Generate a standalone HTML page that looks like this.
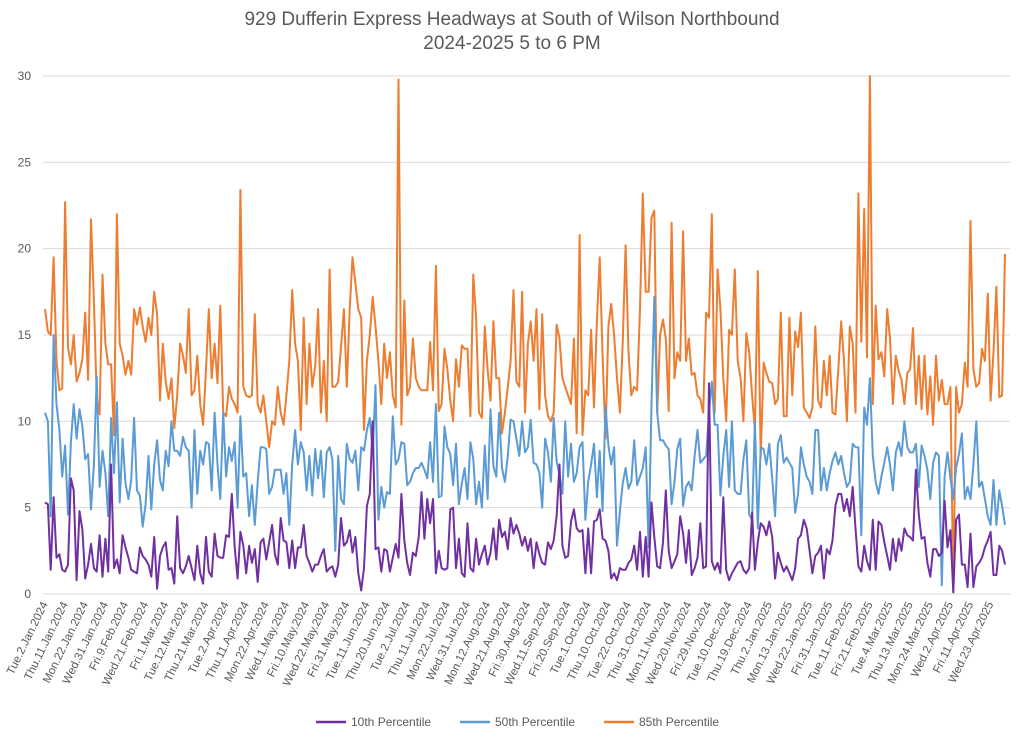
<!DOCTYPE html>
<html><head><meta charset="utf-8"><style>
body{margin:0;background:#fff;}
svg{display:block;font-family:"Liberation Sans",sans-serif;}
</style></head><body>
<svg id="chart" width="1024" height="740">
<text x="512" y="25" text-anchor="middle" font-size="19" fill="#595959">929 Dufferin Express Headways at South of Wilson Northbound</text>
<text x="512" y="49" text-anchor="middle" font-size="19" fill="#595959">2024-2025 5 to 6 PM</text>
<g id="grid"></g><g id="xlabels"></g><g id="lines"></g>
<g>
<g><line x1="316" y1="722" x2="346" y2="722" stroke="#7030A0" stroke-width="2.5"/><text x="351" y="726" font-size="12" fill="#595959">10th Percentile</text></g>
<g><line x1="460" y1="722" x2="490" y2="722" stroke="#5B9BD5" stroke-width="2.5"/><text x="495" y="726" font-size="12" fill="#595959">50th Percentile</text></g>
<g><line x1="604" y1="722" x2="634" y2="722" stroke="#ED7D31" stroke-width="2.5"/><text x="639" y="726" font-size="12" fill="#595959">85th Percentile</text></g>
</g>
</svg>
<script>
const yTicks=[0,5,10,15,20,25,30];
const tickLabels=["Tue.2.Jan.2024","Thu.11.Jan.2024","Mon.22.Jan.2024","Wed.31.Jan.2024","Fri.9.Feb.2024","Wed.21.Feb.2024","Fri.1.Mar.2024","Tue.12.Mar.2024","Thu.21.Mar.2024","Tue.2.Apr.2024","Thu.11.Apr.2024","Mon.22.Apr.2024","Wed.1.May.2024","Fri.10.May.2024","Wed.22.May.2024","Fri.31.May.2024","Tue.11.Jun.2024","Thu.20.Jun.2024","Tue.2.Jul.2024","Thu.11.Jul.2024","Mon.22.Jul.2024","Wed.31.Jul.2024","Mon.12.Aug.2024","Wed.21.Aug.2024","Fri.30.Aug.2024","Wed.11.Sep.2024","Fri.20.Sep.2024","Tue.1.Oct.2024","Thu.10.Oct.2024","Tue.22.Oct.2024","Thu.31.Oct.2024","Mon.11.Nov.2024","Wed.20.Nov.2024","Fri.29.Nov.2024","Tue.10.Dec.2024","Thu.19.Dec.2024","Thu.2.Jan.2025","Mon.13.Jan.2025","Wed.22.Jan.2025","Fri.31.Jan.2025","Tue.11.Feb.2025","Fri.21.Feb.2025","Tue.4.Mar.2025","Thu.13.Mar.2025","Mon.24.Mar.2025","Wed.2.Apr.2025","Fri.11.Apr.2025","Wed.23.Apr.2025"];
const p85=[16.5,15.2,15,19.5,13.5,11.8,11.9,22.7,14.3,13.3,15,12.3,12.8,13.6,16.3,12.4,21.7,17,11.4,10.4,18.5,14.5,13.3,13.3,9.2,22,14.5,13.8,12.7,13.5,12.7,16.5,15.6,16.6,15.5,14.6,16,15,17.5,16.2,11.2,14.5,12.3,11.3,12.5,9.6,11.5,14.5,13.8,12.8,16.5,
11.5,11.8,13.8,11,9.8,13,16.5,12.5,14.5,12.2,16.7,10.5,10.3,12,11.3,11,10.5,23.4,12,11.5,11.4,11.5,16.2,11,10.5,11.5,10,8.5,10,9.8,12,10.5,9.8,11.5,13.5,17.6,14.5,13.5,9.5,16,11,14.5,12,13.2,16.5,10.5,13.5,10,18.8,12,12,12.3,14.3,16.5,12,16.5,19.5,
18,16.5,16,9.5,13.5,15,17.2,15.5,13.5,11,14.5,12.5,14,11.5,10.8,29.8,9.8,17,11.5,12,14.8,12.5,12,11.8,11.8,11.8,14.6,11.8,19,10.6,11,14.2,13,11.2,10,13.6,12,14.4,14.2,14.2,10.3,18.5,16,10.5,10.2,15.5,13,11.2,15.8,12.5,12.5,9.3,10.5,12,13.5,17.6,12.3,
12,17.5,10.5,14.5,15.8,13.5,16.5,10.7,16.2,11.5,10.3,10,10.5,15.6,14.8,12.5,12,11.5,11,14.8,9.3,20.8,9.2,11.8,11.5,15.3,10.8,15.8,19.5,13.8,9,15.5,16.8,15,12.5,10.5,14.5,20.2,14,11.5,12,11.8,16.5,23.2,17.5,17.5,21.8,22.2,10.5,15,15.9,14.8,10.6,21.5,12.5,14,13.5,
21,13.5,14.8,12.7,12.8,11.5,11.3,10.5,16.3,16,22,10.5,18.8,16.5,12.5,10,15.3,15,18.8,13.5,12.5,10,15.1,14,11.5,9.5,18.7,7.9,13.4,12.8,12.3,12.2,11,11.3,16.3,10.3,10.3,16,11.5,15.2,14.3,16.3,10.8,10.5,10.2,10.8,15.5,11.2,10.8,13.5,11.5,13.8,10.5,10.4,13,15.8,13.5,
10,15.5,14.5,10.5,23.2,14.6,22.3,13.7,30,11,16.7,13.6,14,12.6,16.5,14.8,11,13.8,12.9,12.4,11,12.8,13,15.4,11,13.8,10.7,13.8,10.4,12.6,9.8,13.8,11.2,12.4,11,11,12,0.1,12,10.5,11,13.4,12,21.6,13,12,12.2,14.2,13.5,17.4,11.2,14,17.8,11.4,11.5,19.7];
const p50=[10.5,10,4.5,15,11,9.5,6.8,8.6,4.6,8.8,11,9,10.7,9.7,7.8,8.1,4.9,7.5,12.6,6.2,8.3,7,4.5,10.2,7,11.1,5.3,9,6.4,5.5,6.6,10.2,6,5.7,3.9,5.2,8,4.9,7.5,8.9,6.6,6,8.3,7.4,10,8.3,8.3,8,9.1,8.5,8.3,
5,9.5,5.8,8.3,7.5,8.8,8.7,6,10.5,7.5,5.5,10.5,6.8,8.5,7.7,8.8,5,10.3,6.8,7,4.5,6.3,4,6.5,8.5,8.5,8.4,5.8,6.2,7.2,7.2,7.2,5.8,7,4,7.5,9.5,7.5,8.8,8.2,6,8,5.7,8.4,6.7,8.3,5.6,8.2,8.5,7.8,2.5,8,5.5,5.2,8.7,7.8,7.6,
8.3,6,8.5,8.3,9.5,10.2,8.2,12.1,4.3,6.2,5,5.9,5.8,10.3,7.5,7.8,8.8,8.7,6.3,6.5,7,7.3,7.3,7.6,7.2,6.7,8.8,6.5,11,5.6,5.7,9.7,8.5,8.1,6.3,8.7,5.2,6.4,7.3,5.5,8.8,7.8,5.2,6.5,5,8.6,5.5,10.7,7.4,6.8,10.5,7.3,6.5,8,10.1,10,9,
8,10,8.2,8.5,10.1,7.6,7.5,7,5,9,8.2,6.5,10.2,7.7,6.9,5.8,10,6.8,8.7,6.5,7,8.5,8.8,4.3,6.5,7.5,8.7,5.6,8.3,4.8,10.9,8.6,7.5,8.5,2.8,4.8,6.4,7.3,6.1,6.5,8.9,6.3,6.8,7.3,8.5,2.7,11,17.2,10.5,8.9,8.9,8.6,8.4,5.2,6.5,8.4,9,
5.1,6.2,6.5,6,8,9.5,7.6,7.8,8,10.5,12.3,9.8,9.8,5.7,8,9.5,6.2,10,6,5.8,5.8,7.8,8.9,4.6,4.3,10,3.8,8.5,8.4,7.5,8.7,6.7,4.5,8.7,9.2,7.6,7.9,7.6,7.3,4.7,5.8,8.5,7.5,6.8,6.5,5.8,9.5,9.5,6,7.3,6,7,7.7,8.2,7.5,8,7,
6.2,6.5,8.7,8.5,8.5,3.4,10.8,9.8,12.5,8,6.5,5.8,6.8,7.6,8.5,7.5,6,8.2,8.8,8,10,8.5,8.2,8.2,8.7,6.2,8.6,8,7.2,5.5,7.6,8.2,8,0.5,6.8,8.2,6.7,5.5,7.3,8.1,9.3,5.5,6.2,5.5,7.5,10,6.2,6.5,5.5,4.5,4,6.6,4,6,5.1,4];
const p10=[5.3,5.2,1.4,5.6,2.1,2.3,1.4,1.3,1.7,6.7,6,0.8,4.8,3.7,0.9,1.7,2.9,1.5,1.3,3.4,1,3.2,1.3,7.5,1.5,2,1.2,3.4,2.7,2.1,1.4,1.3,1.2,2.7,2.2,2,1.7,1,3.3,0.3,2.2,2.7,3,1.4,1.5,0.6,4.5,1.5,1.2,1.6,2.2,
1.5,0.8,2.8,1.2,0.6,3.3,1.3,1,3.5,2.2,2.1,2.1,3.4,3.3,5.8,2.7,0.9,3.6,2.8,1.2,2.8,1.8,2.6,0.7,3,3.2,2,3,4,2.3,1.7,4.4,3.1,3,1.5,3.1,1.5,2.7,2.7,4,2.2,1.8,1.3,1.7,1.7,2.2,2.6,1.3,1.5,1.6,1,1.7,4.4,2.8,3,3.7,2.4,
3.3,1.2,0.2,1.5,5.1,5.8,10,2.6,2.7,1.3,2.6,2.5,1.3,2.1,2.9,2.1,5.8,3.1,1.8,1.1,2.4,2.2,3.3,5.9,3.2,5.5,4.1,5.5,1.2,2.5,1.5,1.4,1.5,4.9,5,1.5,3.2,1.2,1,4.1,1.5,1.3,3.2,1.7,2.3,2.8,1.7,2.4,3.8,2,4.3,3.3,3.6,2.6,4.4,3.5,4,
3.5,2.8,3.3,2.5,3.2,1.5,3,2.3,1.8,1.7,3,2.6,3.1,4.5,7.5,2.8,2.1,2.2,4.2,4.9,3.8,3.6,3.7,1.2,3.8,1.2,4.2,4.3,4.9,3.2,3.1,2.5,0.9,1.2,0.8,1.5,1.4,1.4,1.8,2,2.8,1.4,3.6,1,3.3,1,5.3,3.3,1.6,1.5,3,6,2.5,1.5,1.9,2.3,4.5,
3.5,1.8,3.7,1.1,1.5,2.1,4.1,1.5,1.6,12.2,1.9,1.4,1.8,1.2,5.6,1.4,0.8,1.2,1.5,1.8,1.9,1.4,1.2,1.5,4.7,1.4,3,4.1,3.9,3.4,4.2,3.3,0.9,2.4,1.8,1.3,1.6,1.2,0.8,1.5,3.2,3.4,4.3,3.8,2.5,1.2,2.2,2.4,2.8,0.9,2.6,2.3,3.1,5.1,5.8,5.8,4.8,
5.5,4.5,6.2,3.8,1.6,1.3,2.8,1.9,1.4,4.3,1.4,4.2,4,3,2.2,1.4,3.2,1.9,3.2,2.5,3.8,3.4,3.3,3.1,7.2,4.6,3.2,3.3,1.8,1,2.6,2.6,2.2,2.4,5.4,2.7,3.7,0.1,4.3,4.6,1.7,1.7,0.4,3.5,0.4,1.6,1.8,2.1,2.7,3.1,3.6,1.1,1.1,2.8,2.5,1.7];

const NS='http://www.w3.org/2000/svg';
const x0=45,x1=1005,yBase=594,yTop=76,N=p85.length;
function xs(i){return x0+i*(x1-x0)/(N-1);}
function ys(v){return yBase-v*(yBase-yTop)/30;}
const grid=document.getElementById('grid');
yTicks.forEach(t=>{
  const l=document.createElementNS(NS,'line');
  l.setAttribute('x1',43);l.setAttribute('x2',1010);
  l.setAttribute('y1',ys(t));l.setAttribute('y2',ys(t));
  l.setAttribute('stroke','#d9d9d9');l.setAttribute('stroke-width',1);
  
  
  grid.appendChild(l);
  const tx=document.createElementNS(NS,'text');
  tx.setAttribute('x',31);tx.setAttribute('y',ys(t)+4);
  tx.setAttribute('text-anchor','end');tx.setAttribute('font-size','12');tx.setAttribute('fill','#595959');
  tx.textContent=t;
  
  
  grid.appendChild(tx);
});
const xl=document.getElementById('xlabels');
tickLabels.forEach((s,k)=>{
  const x=xs(k*7)+3,y=604;
  const tx=document.createElementNS(NS,'text');
  tx.setAttribute('x',x);tx.setAttribute('y',y);
  tx.setAttribute('text-anchor','end');tx.setAttribute('font-size','11.5');tx.setAttribute('fill','#595959');
  tx.setAttribute('transform','rotate(-64 '+x+' '+y+')');
  tx.textContent=s;
  
  
  xl.appendChild(tx);
});
const lines=document.getElementById('lines');
[[p85,'#ED7D31','series-85th-percentile'],[p50,'#5B9BD5','series-50th-percentile'],[p10,'#7030A0','series-10th-percentile']].forEach(([arr,c,nm])=>{
  const p=document.createElementNS(NS,'polyline');
  p.setAttribute('points',arr.map((v,i)=>xs(i).toFixed(1)+','+ys(v).toFixed(1)).join(' '));
  p.setAttribute('fill','none');p.setAttribute('stroke',c);p.setAttribute('stroke-width','2');p.setAttribute('stroke-linejoin','round');
  
  
  lines.appendChild(p);
});
</script>
</body></html>
